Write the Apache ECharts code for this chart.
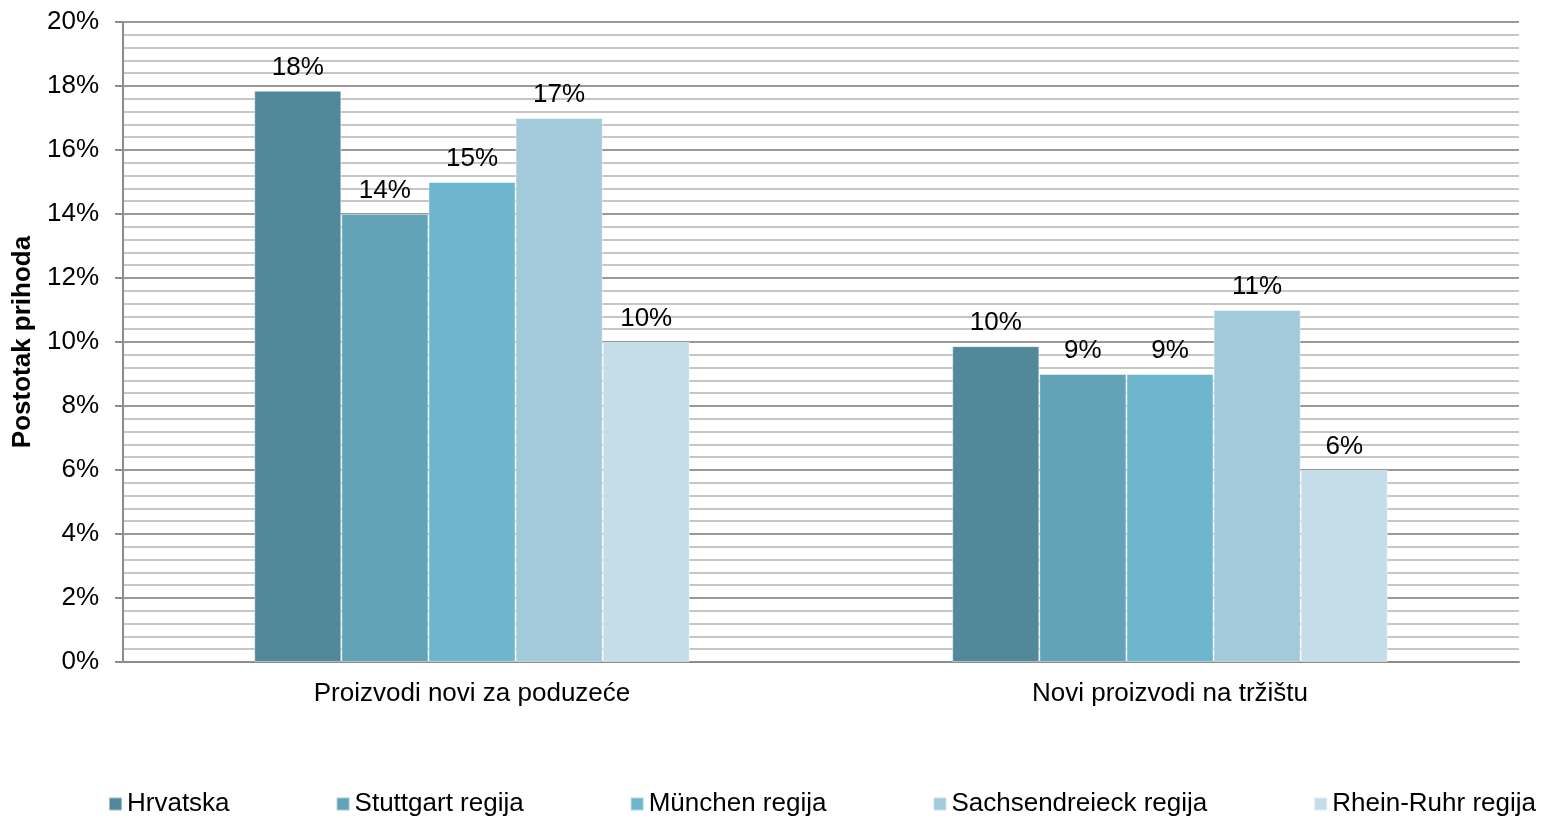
<!DOCTYPE html>
<html>
<head>
<meta charset="utf-8">
<script src="https://cdn.jsdelivr.net/npm/echarts@6/dist/echarts.min.js"></script>
<style>
  html, body { margin: 0; padding: 0; background: #fff; }
  #chart { width: 1554px; height: 818px; }
</style>
</head>
<body>
<div id="chart"></div>
<script>
// categories and series
const categories = ['Proizvodi novi za poduzeće', 'Novi proizvodi na tržištu'];
const seriesNames = ['Hrvatska', 'Stuttgart regija', 'München regija', 'Sachsendreieck regija', 'Rhein-Ruhr regija'];
const hrvatska = [17.85, 9.87];
const stuttgart = [14, 9];
const munchen = [15, 9];
const sachsen = [17, 11];
const rheinRuhr = [10, 6];
const seriesColors = ['#51899b', '#62a3b7', '#6db6ce', '#a2cada', '#c4dde8'];

const font = 'Liberation Sans, Arial, sans-serif';
const seriesData = [hrvatska, stuttgart, munchen, sachsen, rheinRuhr];

const chart = echarts.init(document.getElementById('chart'));
chart.setOption({
  animation: false,
  textStyle: { fontFamily: font },
  grid: {
    left: 123,
    right: 35,
    top: 22,
    bottom: 156,
    outerBoundsMode: 'none'
  },
  legend: {
    left: 108,
    top: 791,
    padding: 0,
    itemGap: 106,
    itemWidth: 13,
    itemHeight: 13,
    icon: 'rect',
    textStyle: { fontSize: 26, color: '#000', fontFamily: font },
    data: seriesNames
  },
  xAxis: {
    type: 'category',
    data: categories,
    axisTick: { show: false },
    axisLine: {
      lineStyle: { color: '#8c8c8c', width: 2 }
    },
    axisLabel: {
      fontSize: 26,
      color: '#000',
      margin: 19
    }
  },
  yAxis: {
    type: 'value',
    min: 0,
    max: 20,
    interval: 2,
    name: 'Postotak prihoda',
    nameLocation: 'middle',
    nameRotate: 90,
    nameGap: 85,
    nameTextStyle: {
      fontSize: 26,
      fontWeight: 'bold',
      color: '#000'
    },
    axisLine: {
      show: true,
      lineStyle: { color: '#8c8c8c', width: 2 }
    },
    axisTick: {
      show: true,
      length: 8,
      lineStyle: { color: '#8c8c8c', width: 2 }
    },
    axisLabel: {
      fontSize: 26,
      color: '#000',
      margin: 24,
      formatter: (v) => v + '%'
    },
    splitLine: {
      show: true,
      lineStyle: { color: '#999999', width: 2 }
    },
    minorTick: { show: false, splitNumber: 5 },
    minorSplitLine: {
      show: true,
      lineStyle: { color: '#c6c6c6', width: 2 }
    }
  },
  series: seriesNames.map((name, i) => ({
    name: name,
    type: 'bar',
    data: seriesData[i],
    barGap: '0%',
    barCategoryGap: '37.6%',
    itemStyle: {
      color: seriesColors[i],
      borderColor: 'rgba(255,255,255,0.45)',
      borderWidth: 1
    },
    label: {
      show: true,
      position: 'top',
      distance: 10,
      fontSize: 26,
      color: '#000',
      formatter: (p) => Math.round(p.value) + '%'
    }
  }))
});
</script>
</body>
</html>
